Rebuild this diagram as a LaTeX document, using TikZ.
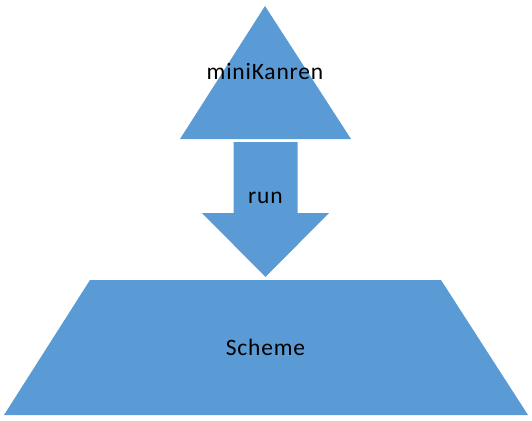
\documentclass[tikz,border=0pt]{standalone}
\usepackage{fontspec}
\setmainfont{Carlito}[LetterSpace=3.5]
\definecolor{shapeblue}{HTML}{5B9BD5}
\begin{document}
\begin{tikzpicture}[x=1pt,y=-1pt,
  shapefill/.style={fill=shapeblue,draw=none},
  lbl/.style={font=\fontsize{23.5}{28}\selectfont,text=black,inner sep=0pt}]
\useasboundingbox (0,0) rectangle (532,420);
% triangle
\path[shapefill] (265,6) -- (351,139) -- (180,139) -- cycle;
% arrow
\path[shapefill] (233.5,142) -- (297.5,142) -- (297.5,213) -- (329,213) -- (265.5,277) -- (202,213) -- (233.5,213) -- cycle;
% trapezoid
\path[shapefill] (90,280) -- (441,280) -- (528,415) -- (4,415) -- cycle;
\node[lbl] (mk) at (265,72) {miniKanren};
\node[lbl] (run) at (265.5,198) {run};
\node[lbl] (sch) at (265.5,347) {Scheme};
\end{tikzpicture}
\end{document}
